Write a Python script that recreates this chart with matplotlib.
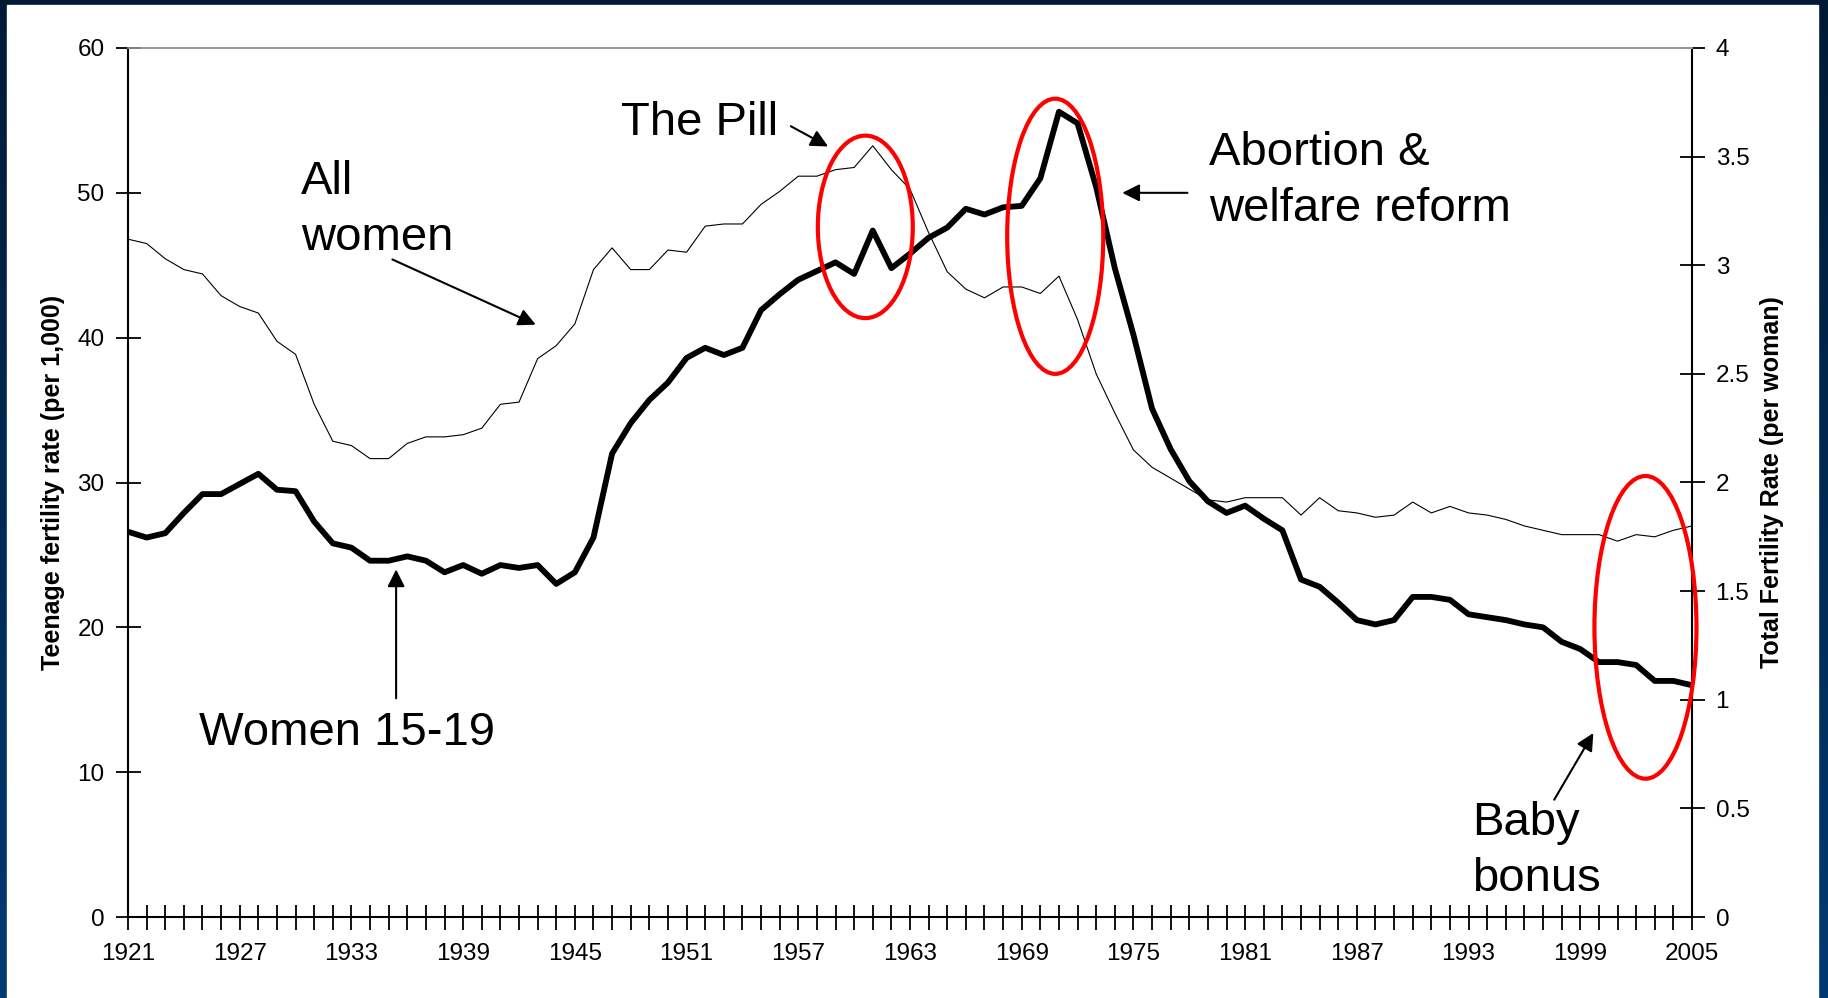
import numpy as np
import matplotlib
matplotlib.use("Agg")
import matplotlib.pyplot as plt
from matplotlib.patches import Ellipse, Rectangle
from matplotlib.colors import LinearSegmentedColormap
from matplotlib.ticker import FormatStrFormatter

plt.rcParams['font.family'] = ['Liberation Sans', 'DejaVu Sans']

years = list(range(1921, 2006))

# teenage fertility rate, women 15-19 (per 1,000) - left axis
teen_rate = [26.6, 26.2, 26.5, 27.9, 29.2, 29.2, 29.9, 30.6, 29.5, 29.4,
             27.3, 25.8, 25.5, 24.6, 24.6, 24.9, 24.6, 23.8, 24.3, 23.7,
             24.3, 24.1, 24.3, 23.0, 23.8, 26.2, 32.0, 34.1, 35.7, 36.9,
             38.6, 39.3, 38.8, 39.3, 41.9, 43.0, 44.0, 44.6, 45.2, 44.4,
             47.4, 44.8, 45.8, 46.9, 47.6, 48.9, 48.5, 49.0, 49.1, 51.0,
             55.6, 54.8, 50.4, 44.8, 40.2, 35.1, 32.3, 30.1, 28.7, 27.9,
             28.4, 27.5, 26.7, 23.3, 22.8, 21.7, 20.5, 20.2, 20.5, 22.1,
             22.1, 21.9, 20.9, 20.7, 20.5, 20.2, 20.0, 19.0, 18.5, 17.6,
             17.6, 17.4, 16.3, 16.3, 16.0]

# total fertility rate, all women (per woman) - right axis
tfr = [3.12, 3.10, 3.03, 2.98, 2.96, 2.86, 2.81, 2.78, 2.65, 2.59,
       2.36, 2.19, 2.17, 2.11, 2.11, 2.18, 2.21, 2.21, 2.22, 2.25,
       2.36, 2.37, 2.57, 2.63, 2.73, 2.98, 3.08, 2.98, 2.98, 3.07,
       3.06, 3.18, 3.19, 3.19, 3.28, 3.34, 3.41, 3.41, 3.44, 3.45,
       3.55, 3.44, 3.35, 3.15, 2.97, 2.89, 2.85, 2.90, 2.90, 2.87,
       2.95, 2.75, 2.50, 2.32, 2.15, 2.07, 2.02, 1.97, 1.92, 1.91,
       1.93, 1.93, 1.93, 1.85, 1.93, 1.87, 1.86, 1.84, 1.85, 1.91,
       1.86, 1.89, 1.86, 1.85, 1.83, 1.80, 1.78, 1.76, 1.76, 1.76,
       1.73, 1.76, 1.75, 1.78, 1.80]

W, H = 1828, 998
fig = plt.figure(figsize=(W / 100, H / 100), dpi=100)

# navy slide background with white panel
bg = fig.add_axes([0, 0, 1, 1])
bg.set_axis_off()
cmap = LinearSegmentedColormap.from_list('navy', ['#001a35', '#003a72'])
bg.imshow(np.linspace(0, 1, 256).reshape(-1, 1), aspect='auto', cmap=cmap,
          extent=[0, 1, 0, 1], origin='upper')
bg.add_patch(Rectangle((7 / W, 0), (1818 - 7) / W, (H - 5) / H, color='white'))
bg.set_xlim(0, 1)
bg.set_ylim(0, 1)

ax = fig.add_axes([128 / W, 1 - 917 / H, (1692 - 128) / W, (917 - 48) / H])
ax2 = ax.twinx()
ax.set_zorder(ax2.get_zorder() + 1)
ax.patch.set_visible(False)

ax2.plot(years, tfr, color='black', lw=0.8)
ax.plot(years, teen_rate, color='black', lw=4.2)

ax.set_xlim(1921, 2005)
ax.set_ylim(0, 60)
ax2.set_ylim(0, 4)
ax.set_xticks(range(1921, 2006, 6))
ax.set_xticks(years, minor=True)
ax.set_yticks(range(0, 61, 10))
ax2.set_yticks(np.arange(0, 4.01, 0.5))
ax2.yaxis.set_major_formatter(FormatStrFormatter('%g'))

ax.tick_params(axis='x', which='both', direction='inout', length=18, width=1.3,
               labelsize=17.5, pad=10, top=False)
ax.tick_params(axis='y', direction='inout', length=18, width=1.3,
               labelsize=17.5, pad=8, right=False)
ax2.tick_params(axis='y', direction='inout', length=18, width=1.3,
                labelsize=17.5, pad=8)

for a in (ax, ax2):
    a.spines['top'].set_color('#999999')
    a.spines['top'].set_linewidth(1.2)
ax.spines['left'].set_linewidth(1.5)
ax.spines['bottom'].set_linewidth(1.5)
ax.spines['right'].set_visible(False)
ax2.spines['right'].set_linewidth(1.5)
ax2.spines['left'].set_visible(False)
ax2.spines['bottom'].set_visible(False)

ax.set_ylabel('Teenage fertility rate (per 1,000)', fontsize=18, fontweight='bold')
ax.yaxis.set_label_coords(-0.040, 0.5)
ax2.set_ylabel('Total Fertility Rate (per woman)', fontsize=18, fontweight='bold')
ax2.yaxis.set_label_coords(1.0435, 0.5)

# red circles
for cx, cy, w, h in [(1960.6, 47.65, 5.1, 12.6), (1970.8, 47.0, 5.16, 19.0),
                     (2002.5, 20.0, 5.48, 20.9)]:
    ax.add_patch(Ellipse((cx, cy), w, h, fill=False, edgecolor='#ff0000',
                         lw=3, clip_on=False, zorder=5))

arrow = dict(arrowstyle='-|>', color='black', lw=1.5, mutation_scale=26,
             shrinkA=0, shrinkB=0)
fs = 34
ls = 1.36

ax.text(1930.3, 52.3, 'All\nwomen', fontsize=fs, va='top', ha='left', linespacing=ls)
ax.annotate('', xy=(1942.9, 40.9), xytext=(1935.2, 45.4), arrowprops=arrow,
            annotation_clip=False)

ax.text(1947.5, 54.8, 'The Pill', fontsize=fs, va='center', ha='left')
ax.annotate('', xy=(1958.6, 53.2), xytext=(1956.6, 54.6), arrowprops=arrow,
            annotation_clip=False)

ax.text(1979.05, 54.3, 'Abortion &\nwelfare reform', fontsize=fs, va='top', ha='left',
        linespacing=ls)
ax.annotate('', xy=(1974.4, 50.0), xytext=(1977.9, 50.0), arrowprops=arrow,
            annotation_clip=False)

ax.text(1924.8, 12.7, 'Women 15-19', fontsize=fs, va='center', ha='left')
ax.annotate('', xy=(1935.4, 24.0), xytext=(1935.4, 15.1), arrowprops=arrow,
            annotation_clip=False)

ax.text(1993.2, 8.0, 'Baby\nbonus', fontsize=fs, va='top', ha='left', linespacing=ls)
ax.annotate('', xy=(1999.7, 12.7), xytext=(1997.6, 8.1), arrowprops=arrow,
            annotation_clip=False)

fig.savefig('out.png', dpi=100)
